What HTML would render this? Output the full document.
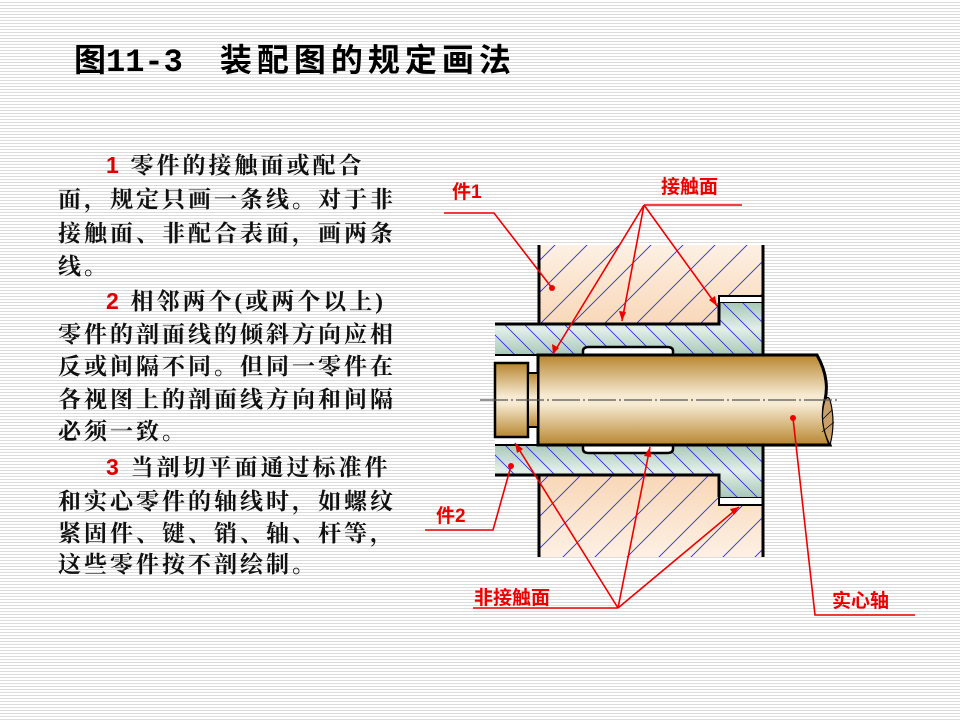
<!DOCTYPE html>
<html><head><meta charset="utf-8"><style>
html,body{margin:0;padding:0}
body{width:960px;height:720px;position:relative;overflow:hidden;
background:repeating-linear-gradient(to bottom,#fff 0,#fff 2px,#dcdcdc 2px,#dcdcdc 3px);}
.t{position:absolute;font-family:"Liberation Serif","Noto Serif CJK SC",serif;font-weight:bold;font-size:23px;letter-spacing:3px;color:#111;white-space:nowrap;line-height:26px}
.r{color:#d00;font-family:"Liberation Sans",sans-serif}
h1{position:absolute;left:74px;top:40px;margin:0;font-family:"Liberation Sans","Noto Sans CJK SC",sans-serif;font-size:32px;font-weight:bold;color:#000;white-space:nowrap;line-height:40px}
h1 .m{font-family:"Liberation Mono",monospace;font-weight:bold;font-size:32px}
h1 .c{letter-spacing:5px}
svg{position:absolute;left:0;top:0}
</style></head><body>
<h1>图<span class="m">11-3</span><span style="display:inline-block;width:37px"></span><span class="c">装配图的规定画法</span></h1>
<div class="t" style="left:58px;top:152px"><span style="display:inline-block;width:48px"></span><span class="r">1</span> 零件的接触面或配合</div>
<div class="t" style="left:58px;top:187px">面，规定只画一条线。对于非</div>
<div class="t" style="left:58px;top:221px">接触面、非配合表面，画两条</div>
<div class="t" style="left:58px;top:254px">线。</div>
<div class="t" style="left:58px;top:288px"><span style="display:inline-block;width:48px"></span><span class="r">2</span> 相邻两个(或两个以上)</div>
<div class="t" style="left:58px;top:322px">零件的剖面线的倾斜方向应相</div>
<div class="t" style="left:58px;top:354px">反或间隔不同。但同一零件在</div>
<div class="t" style="left:58px;top:387px">各视图上的剖面线方向和间隔</div>
<div class="t" style="left:58px;top:419px">必须一致。</div>
<div class="t" style="left:58px;top:454px"><span style="display:inline-block;width:48px"></span><span class="r">3</span> 当剖切平面通过标准件</div>
<div class="t" style="left:58px;top:489px">和实心零件的轴线时，如螺纹</div>
<div class="t" style="left:58px;top:521px">紧固件、键、销、轴、杆等，</div>
<div class="t" style="left:58px;top:552px">这些零件按不剖绘制。</div>

<svg width="960" height="720" viewBox="0 0 960 720">
<defs>
<linearGradient id="og" x1="0" y1="0" x2="0" y2="1">
<stop offset="0" stop-color="#fdf0e4"/><stop offset="0.5" stop-color="#f4c08e"/><stop offset="1" stop-color="#fdf0e4"/></linearGradient>
<linearGradient id="gg" x1="0" y1="0" x2="0" y2="1">
<stop offset="0" stop-color="#a9c8b8"/><stop offset="0.5" stop-color="#e2efe8"/><stop offset="1" stop-color="#a9c8b8"/></linearGradient>
<linearGradient id="sg" x1="0" y1="0" x2="0" y2="1">
<stop offset="0" stop-color="#b8862f"/><stop offset="0.45" stop-color="#f6ead2"/><stop offset="0.55" stop-color="#f6ead2"/><stop offset="1" stop-color="#b8862f"/></linearGradient>
<pattern id="h1" width="32" height="32" patternUnits="userSpaceOnUse">
<path d="M-8,40 L40,-8 M-40,40 L40,-40 M-8,8 L8,-8 M24,40 L40,24" stroke="#3030e0" stroke-width="0.9"/></pattern>
<pattern id="h2" width="20" height="20" patternUnits="userSpaceOnUse">
<path d="M-5,-5 L25,25 M-5,15 L5,25 M15,-5 L25,5" stroke="#3030e0" stroke-width="0.9"/></pattern>
</defs>
<rect x="538" y="245" width="225" height="312" fill="url(#og)"/>
<rect x="538" y="245" width="225" height="312" fill="url(#h1)"/>
<rect x="719" y="296" width="44" height="7" fill="#fff" stroke="#000" stroke-width="2"/>
<rect x="719" y="497" width="44" height="8" fill="#fff" stroke="#000" stroke-width="2"/>
<path d="M495,324 H719 V303 H763 V355 H495 Z" fill="url(#gg)"/>
<path d="M495,324 H719 V303 H763 V355 H495 Z" fill="url(#h2)"/>
<path d="M495,445 H763 V497 H719 V475 H495 Z" fill="url(#gg)"/>
<path d="M495,445 H763 V497 H719 V475 H495 Z" fill="url(#h2)"/>
<path d="M495,324 H719 V303 M495,475 H719 V497" fill="none" stroke="#000" stroke-width="3"/>
<rect x="495" y="355" width="43" height="90" fill="#fff"/>
<path d="M583,355 V351 Q583,347 589,347 H667 Q673,347 673,351 V355" fill="#fff" stroke="#000" stroke-width="2.5"/>
<path d="M583,445 V449 Q583,453 589,453 H667 Q673,453 673,449 V445" fill="#fff" stroke="#000" stroke-width="2.5"/>
<line x1="539" y1="245" x2="539" y2="324" stroke="#000" stroke-width="3"/>
<line x1="539" y1="475" x2="539" y2="557" stroke="#000" stroke-width="3"/>
<line x1="763" y1="245" x2="763" y2="355" stroke="#000" stroke-width="3"/>
<line x1="763" y1="445" x2="763" y2="557" stroke="#000" stroke-width="3"/>
<path d="M538,355 H817 Q830,378 825,400 Q820,420 830,445 H538 Z" fill="url(#sg)" stroke="#000" stroke-width="3"/>
<path d="M830,445 Q818,422 825,400 Q828,395 830,400 Q836,422 830,445 Z" fill="#c9a06a" stroke="#000" stroke-width="1.2"/>
<path d="M822,420 L832,410 M822,432 L834,422" stroke="#000" stroke-width="0.8"/>
<rect x="495" y="363" width="33" height="74" fill="url(#sg)" stroke="#000" stroke-width="2.5"/>
<rect x="528" y="373" width="10" height="54" fill="url(#sg)" stroke="#000" stroke-width="2"/>
<line x1="495" y1="355" x2="538" y2="355" stroke="#000" stroke-width="2"/>
<line x1="495" y1="445" x2="538" y2="445" stroke="#000" stroke-width="2"/>
<line x1="480" y1="400" x2="840" y2="400" stroke="#555" stroke-width="1.2" stroke-dasharray="28,3,2,3"/>
<g stroke="#e00" stroke-width="1.6" fill="none">
<path d="M444,213 H494 L552,288"/>
<path d="M644,205 H742"/>
<path d="M644,205 L553,354 M644,205 L622,321 M644,205 L717,306"/>
<path d="M425,530 H493 L511,466"/>
<path d="M473,608 H618 M618,608 L515,443 M618,608 L650,447 M618,608 L739,507"/>
<path d="M915,615 H815 L793,418"/>
</g>
<g fill="#e00">
<circle cx="552" cy="288" r="3"/><circle cx="511" cy="466" r="3"/><circle cx="793" cy="418" r="3"/>
<path d="M553,354 l-1,-10 l7,4 z"/><path d="M622,321 l-3,-10 l7,1 z"/><path d="M717,306 l-8,-6 l6,-4 z"/>
<path d="M515,443 l8,6 l-6,4 z"/><path d="M650,447 l1,10 l-7,-1 z"/><path d="M739,507 l-5,8 l-4,-6 z"/>
</g>
<g fill="#e00" font-family="Liberation Sans,'Noto Sans CJK SC',sans-serif" font-weight="bold" font-size="19">
<text x="452" y="198">件1</text>
<text x="661" y="193">接触面</text>
<text x="436" y="522">件2</text>
<text x="474" y="604">非接触面</text>
<text x="832" y="607">实心轴</text>
</g>
</svg>
</body></html>
